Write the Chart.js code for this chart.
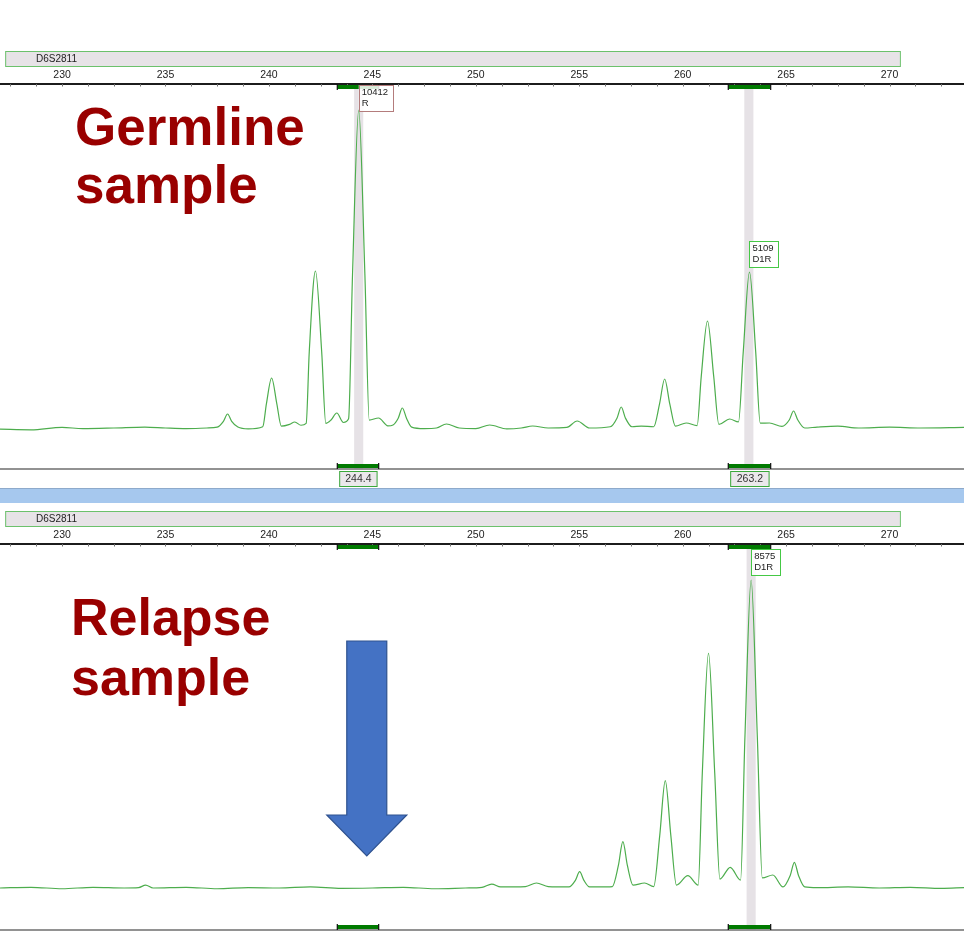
<!DOCTYPE html>
<html>
<head>
<meta charset="utf-8">
<script src="https://cdn.jsdelivr.net/npm/chart.js@4.4.0/dist/chart.umd.min.js"></script>
<style>
  body { margin: 0; background: #fff; width: 964px; height: 932px; overflow: hidden; position: relative; }
  #topCv { position: absolute; left: 0; top: 0; }
  #sep { position: absolute; left: 0; top: 488px; width: 964px; height: 14px; background: #a6c8ee; border-top: 1px solid #8eaacb; }
  #botCv { position: absolute; left: 0; top: 503px; }
</style>
</head>
<body>
<canvas id="topCv" width="964" height="488"></canvas>
<div id="sep"></div>
<canvas id="botCv" width="964" height="429"></canvas>
<script>
'use strict';
// size axis (bp) and marker
const tickLabels = [230, 235, 240, 245, 250, 255, 260, 265, 270];
const xMin = 227.0, xMax = 273.6;
const markerName = 'D6S2811';
const markerRange = [227.25, 270.5];
const binRanges = [[243.3, 245.3], [262.2, 264.25]];
const binLabels = ['244.4', '263.2'];

// germline trace (bp, RFU)
const topBp = [227.0, 228.5, 230.0, 231.0, 232.5, 234.0, 235.0, 236.0, 237.0, 237.5, 237.8, 238.0, 238.2, 238.5,
  239.0, 239.7, 239.88, 240.13, 240.38, 240.6, 241.0, 241.25, 241.55, 241.8, 241.95, 242.25, 242.55, 242.75,
  243.0, 243.28, 243.6, 243.85, 244.04, 244.34, 244.64, 244.85, 245.3, 245.75, 246.0, 246.25, 246.45, 246.65,
  246.9, 247.5, 248.1, 248.58, 249.2, 250.0, 250.67, 251.5, 252.2, 252.75, 253.5, 254.4, 254.9, 255.5, 256.5,
  256.83, 257.03, 257.23, 257.55, 258.0, 258.6, 258.88, 259.13, 259.38, 259.65, 260.17, 260.7, 260.9, 261.2,
  261.5, 261.75, 262.27, 262.7, 262.93, 263.23, 263.53, 263.75, 264.2, 264.8, 265.16, 265.36, 265.56, 265.9,
  266.5, 267.5, 268.5, 270.0, 271.5, 273.6];
const topRfu = [-40, -60, 20, -20, 0, 30, 0, -20, 0, 30, 220, 459, 220, 30,
  -30, 40, 800, 1638, 800, 60, 120, 197, 90, 150, 2500, 5142, 2500, 150,
  260, 491, 180, 300, 5000, 10412, 5000, 260, 327, 70, 100, 320, 655, 320,
  30, -20, 0, 131, 0, -20, 98, -30, 0, 65, 0, 20, 229, 0, 40,
  330, 688, 330, 40, 60, 40, 780, 1605, 780, 60, 164, 80, 1700, 3504,
  1700, 120, 295, 200, 2500, 5109, 2500, 160, 164, 50, 270, 557, 270, 0,
  30, 60, 0, 30, 0, 20];
const topCallBp = [244.34, 263.23];
const topCallRfu = [10412, 5109];
const topCallName = ['R', 'D1R'];
const topCallEdge = ['#b47c7c', '#45c845'];

// relapse trace (bp, RFU)
const botBp = [227.0, 228.5, 230.0, 231.5, 233.0, 233.7, 234.04, 234.4, 236.0, 237.5, 239.0, 240.5, 242.0, 243.5,
  245.0, 246.5, 248.0, 249.5, 250.3, 250.77, 251.2, 252.4, 252.93, 253.5, 254.5, 254.82, 255.02, 255.22, 255.5,
  256.0, 256.6, 256.89, 257.11, 257.33, 257.6, 258.16, 258.6, 258.89, 259.16, 259.43, 259.7, 260.25, 260.75,
  260.95, 261.25, 261.55, 261.8, 262.3, 262.8, 263.01, 263.31, 263.61, 263.85, 264.36, 264.85, 265.2, 265.4,
  265.6, 265.9, 266.5, 268.0, 269.5, 271.0, 272.5, 273.6];
const botRfu = [0, 20, -20, 20, 0, 10, 80, 0, 20, -20, 10, 0, 30, -10,
  0, 20, -20, 0, 20, 110, 30, 40, 139, 40, 30, 220, 454, 220, 30,
  30, 40, 620, 1289, 620, 80, 139, 40, 1450, 2987, 1450, 80, 342, 80,
  3200, 6534, 3200, 250, 576, 220, 4200, 8575, 4200, 280, 362, 30, 350, 715,
  350, 30, 10, 30, 0, 20, -10, 10];
const botCallBp = [263.31];
const botCallRfu = [8575];
const botCallName = ['D1R'];
const botCallEdge = ['#45c845'];

const FONT = "'Liberation Sans', Arial, sans-serif";
const traceColor = '#4dad4d';

const panelPlugin = {
  id: 'panel',
  beforeDatasetsDraw(chart, args, o) {
    const { ctx, chartArea: a, scales: { x } } = chart;
    ctx.save();
    ctx.fillStyle = '#e6e2e6';
    o.bands.forEach(b => {
      const x0 = x.getPixelForValue(b - 0.22), x1 = x.getPixelForValue(b + 0.22);
      ctx.fillRect(x0, a.top, x1 - x0, a.bottom - a.top);
    });
    ctx.restore();
  },
  afterDraw(chart, args, o) {
    const { ctx, chartArea: a, scales: { x, y } } = chart;
    ctx.save();

    // marker bar
    const m0 = x.getPixelForValue(markerRange[0]), m1 = x.getPixelForValue(markerRange[1]);
    ctx.fillStyle = '#e7e3e7';
    ctx.fillRect(m0, a.top - 33, m1 - m0, 15);
    ctx.strokeStyle = '#6cc16c';
    ctx.lineWidth = 1;
    ctx.strokeRect(m0 + 0.5, a.top - 32.5, m1 - m0, 15);
    ctx.fillStyle = '#222';
    ctx.font = '10px ' + FONT;
    ctx.textBaseline = 'middle';
    ctx.textAlign = 'left';
    ctx.fillText(markerName, 36, a.top - 25);

    // axis lines + minor ticks
    ctx.strokeStyle = '#1c1c1c';
    ctx.lineWidth = 2;
    ctx.beginPath(); ctx.moveTo(0, a.top); ctx.lineTo(964, a.top); ctx.stroke();
    ctx.strokeStyle = '#707070';
    ctx.lineWidth = 1;
    for (let v = 230 - 1.25 * 2; v <= xMax; v += 1.25) {
      const px = Math.round(x.getPixelForValue(v)) + 0.5;
      ctx.beginPath(); ctx.moveTo(px, a.top); ctx.lineTo(px, a.top + 2.5); ctx.stroke();
    }
    ctx.strokeStyle = '#6e6e6e';
    ctx.lineWidth = 1.5;
    ctx.beginPath(); ctx.moveTo(0, a.bottom); ctx.lineTo(964, a.bottom); ctx.stroke();

    // bins
    binRanges.forEach((r, i) => {
      const b0 = x.getPixelForValue(r[0]), b1 = x.getPixelForValue(r[1]);
      [[a.top + 1, 4], [a.bottom - 5, 4]].forEach(([yy, h]) => {
        ctx.fillStyle = '#007a00';
        ctx.fillRect(b0, yy, b1 - b0, h);
        ctx.fillStyle = '#111';
        ctx.fillRect(b0 - 0.5, yy - 1, 1.2, h + 2);
        ctx.fillRect(b1 - 0.5, yy - 1, 1.2, h + 2);
      });
      if (o.binBoxes) {
        ctx.fillStyle = '#ebe8eb';
        ctx.fillRect(b0 + 2, a.bottom + 2, b1 - b0 - 3, 16);
        ctx.strokeStyle = '#3aa83a';
        ctx.lineWidth = 1;
        ctx.strokeRect(b0 + 2.5, a.bottom + 2.5, b1 - b0 - 4, 15);
        ctx.fillStyle = '#333';
        ctx.font = '10.5px ' + FONT;
        ctx.textAlign = 'center';
        ctx.fillText(binLabels[i], (b0 + b1) / 2 + 0.5, a.bottom + 10.5);
      }
    });

    // allele call boxes
    ctx.font = '9.5px ' + FONT;
    ctx.textAlign = 'left';
    o.calls.bp.forEach((bp, i) => {
      const px = x.getPixelForValue(bp);
      const py = y.getPixelForValue(o.calls.rfu[i]);
      const t1 = String(o.calls.rfu[i]), t2 = o.calls.name[i];
      const w = Math.max(ctx.measureText(t1).width, ctx.measureText(t2).width) + 8;
      const h = 26;
      const top = Math.max(a.top + 1, py - 5 - h);
      ctx.fillStyle = 'rgba(255,255,255,0.85)';
      ctx.fillRect(px, top, w, h);
      ctx.strokeStyle = o.calls.edge[i];
      ctx.lineWidth = 1;
      ctx.strokeRect(Math.round(px) + 0.5, Math.round(top) + 0.5, Math.round(w), h);
      ctx.fillStyle = '#222';
      ctx.fillText(t1, px + 3, top + 7);
      ctx.fillText(t2, px + 3, top + 18.5);
    });

    // sample title
    ctx.fillStyle = '#990000';
    ctx.font = 'bold ' + o.title.size + 'px ' + FONT;
    ctx.textBaseline = 'alphabetic';
    ctx.textAlign = 'left';
    o.title.lines.forEach((t, i) => ctx.fillText(t, o.title.x, o.title.y + i * o.title.lead));

    // arrow
    if (o.arrow) {
      const cx = x.getPixelForValue(o.arrow.bp);
      const { y0, y1, tip, shaft, head } = o.arrow;
      ctx.beginPath();
      ctx.moveTo(cx - shaft, y0);
      ctx.lineTo(cx + shaft, y0);
      ctx.lineTo(cx + shaft, y1);
      ctx.lineTo(cx + head, y1);
      ctx.lineTo(cx, tip);
      ctx.lineTo(cx - head, y1);
      ctx.lineTo(cx - shaft, y1);
      ctx.closePath();
      ctx.fillStyle = '#4472c4';
      ctx.fill();
      ctx.strokeStyle = '#2f528f';
      ctx.lineWidth = 1.2;
      ctx.stroke();
    }
    ctx.restore();
  }
};

function makeChart(id, bp, rfu, yMin, yMax, pad, panel) {
  return new Chart(document.getElementById(id), {
    type: 'line',
    data: {
      datasets: [{
        data: bp.map((v, i) => ({ x: v, y: rfu[i] })),
        borderColor: traceColor,
        borderWidth: 1.2,
        pointRadius: 0,
        cubicInterpolationMode: 'monotone',
        fill: false
      }]
    },
    options: {
      responsive: false,
      animation: false,
      events: [],
      layout: { padding: pad },
      plugins: { legend: { display: false }, tooltip: { enabled: false }, panel },
      scales: {
        x: {
          type: 'linear', position: 'top', min: xMin, max: xMax,
          afterBuildTicks: s => { s.ticks = tickLabels.map(v => ({ value: v })); },
          afterFit: s => { s.height = 22; },
          grid: { display: false, drawTicks: false },
          border: { display: false },
          ticks: { color: '#222', padding: 3, maxRotation: 0, autoSkip: false, font: { family: FONT, size: 10.5 } }
        },
        y: { display: false, min: yMin, max: yMax }
      }
    },
    plugins: [panelPlugin]
  });
}

makeChart('topCv', topBp, topRfu, -1343, 11266, { top: 62, bottom: 19, left: 0, right: 0 }, {
  bands: [244.34, 263.2],
  binBoxes: true,
  calls: { bp: topCallBp, rfu: topCallRfu, name: topCallName, edge: topCallEdge },
  title: { lines: ['Germline', 'sample'], x: 75, y: 145, lead: 58, size: 53 }
});

makeChart('botCv', botBp, botRfu, -1169, 9577, { top: 19, bottom: 2, left: 0, right: 0 }, {
  bands: [263.31],
  binBoxes: false,
  calls: { bp: botCallBp, rfu: botCallRfu, name: botCallName, edge: botCallEdge },
  title: { lines: ['Relapse', 'sample'], x: 71, y: 132, lead: 60, size: 52 },
  arrow: { bp: 244.73, y0: 138, y1: 312, tip: 353, shaft: 20, head: 40 }
});
</script>
</body>
</html>
